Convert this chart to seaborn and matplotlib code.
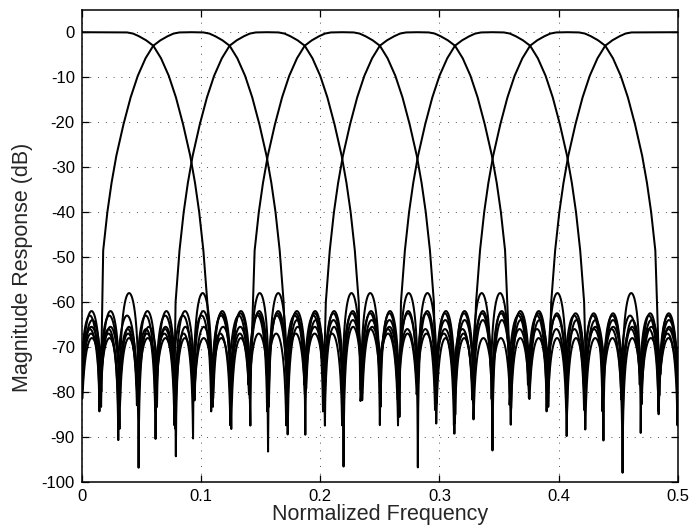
import numpy as np
import pandas as pd
import matplotlib
matplotlib.use("Agg")
import matplotlib.pyplot as plt
import seaborn as sns

# ---------------- values ----------------
x_ticks = [0.0, 0.1, 0.2, 0.3, 0.4, 0.5]
x_tick_labels = ["0", "0.1", "0.2", "0.3", "0.4", "0.5"]
y_ticks = [0, -10, -20, -30, -40, -50, -60, -70, -80, -90, -100]
y_tick_labels = ["0", "-10", "-20", "-30", "-40", "-50", "-60", "-70", "-80", "-90", "-100"]

# -3 dB crossings between neighbouring channels (8 channels)
band_edges = [0.060, 0.124, 0.187, 0.250, 0.313, 0.376, 0.439]
# main-lobe nulls of each channel, as index on the 1/64 sidelobe grid
mainlobe_null_bins = [(None, 7), (1, 11), (5, 15), (9, 19), (13, 23), (17, 27), (21, 31), (25, None)]
sidelobe_spacing = 1 / 64          # arch width
n_arches = 32
# small misalignment of each channel's sidelobe grid
sidelobe_shift = [0.0, 0.0007, -0.0006, 0.0004, -0.0008, 0.0008, -0.0004, 0.0006]

# passband roll-off, distance inward from the -3 dB point
pass_dist = [0.022, 0.017, 0.012, 0.006, 0.0]
pass_db = [-0.05, -0.3, -0.9, -1.8, -3.0]
# transition band, distance outward from the -3 dB point
trans_dist = [0.0065, 0.013, 0.019, 0.025, 0.031, 0.035, 0.0385, 0.042, 0.0453]
trans_db = [-5.8, -9.7, -14.5, -20.5, -27.5, -33.5, -40.0, -48.5, -60.0]

# typical sidelobe peak level of each channel
sidelobe_db = [-62.5, -64.0, -66.0, -68.0, -63.0, -65.5, -67.0, -62.0]
# the taller (-58 dB) sidelobes, channel -> arch indices
tall_lobe_bins = {0: [29], 1: [17, 18, 25], 2: [21, 22], 5: [9, 10], 6: [6, 14, 15], 7: [2]}
tall_lobe_db = -58.0
# typical null depths of each channel (repeating along frequency)
null_pattern = [
    [-74, -80, -77],
    [-78, -72, -83],
    [-72, -79, -75, -82],
    [-80, -75, -86],
    [-76, -83, -71],
    [-71, -77, -81, -74],
    [-79, -73, -85],
    [-75, -82, -78],
]
# deepest null seen at each grid point 0, 1/64, ..., 32/64
deep_null_db = [-78, -83, -89.5, -96, -89.5, -92, -89.5, -80, -80, -85, -92, -89, -88.5,
                -85, -96, -81, -86, -83, -96, -87, -88.5, -85, -92, -85, -80, -81,
                -88.5, -87.5, -89.5, -96, -88.5, -83, -82]

# ---------------- build the curves ----------------
n_ch = len(sidelobe_db)


def has_null(k, g):
    gl, gr = mainlobe_null_bins[k]
    if k == 0:
        return g >= gr
    if k == n_ch - 1:
        return g <= gl
    return g <= gl or g >= gr


owner = []
for g in range(n_arches + 1):
    elig = [k for k in range(n_ch) if has_null(k, g)]
    owner.append(elig[(3 * g) % len(elig)])


def null_depth(k, g):
    if 0 <= g <= n_arches and owner[g] == k:
        return deep_null_db[g]
    pat = null_pattern[k]
    return pat[g % len(pat)]


def arch(k, j, P, Na, Nb, n=48):
    a = j * sidelobe_spacing + sidelobe_shift[k]
    t = np.linspace(0.0, 1.0, n + 1)
    ea = 10 ** ((Na - P) / 20)
    eb = 10 ** ((Nb - P) / 20)
    s = np.sin(np.pi * t) + ea * (1 - t) + eb * t
    y = P + 20 * np.log10(s / s.max())
    return list(a + t * sidelobe_spacing), list(y)


def channel_curve(k):
    xs, ys = [], []

    def add(xx, yy):
        for x, y in zip(xx, yy):
            if xs and abs(x - xs[-1]) < 1e-9:
                continue
            xs.append(x)
            ys.append(y)

    sh = sidelobe_shift[k]
    gl, gr = mainlobe_null_bins[k]

    def peak(j):
        if j in tall_lobe_bins.get(k, []):
            return tall_lobe_db
        return sidelobe_db[k]

    # left sidelobes
    if gl is not None:
        j0 = -1 if sh > 0 else 0
        for j in range(j0, gl):
            ax_, ay_ = arch(k, j, peak(j), null_depth(k, j), null_depth(k, j + 1))
            add(ax_, ay_)
    # main lobe
    if k == 0:
        add([-0.001], [0.0])
    else:
        eL = band_edges[k - 1]
        nx = gl * sidelobe_spacing + sh
        add([nx], [null_depth(k, gl)])
        for d, v in zip(trans_dist[::-1], trans_db[::-1]):
            if eL - d > nx + 0.0008:
                add([eL - d], [v])
        for d, v in zip(pass_dist[::-1], pass_db[::-1]):
            add([eL + d], [v])
    if k == n_ch - 1:
        add([0.501], [0.0])
    else:
        eR = band_edges[k]
        if k > 0:
            add([(band_edges[k - 1] + eR) / 2], [0.0])
        for d, v in zip(pass_dist, pass_db):
            add([eR - d], [v])
        nx = gr * sidelobe_spacing + sh
        for d, v in zip(trans_dist, trans_db):
            if eR + d < nx - 0.0008:
                add([eR + d], [v])
        add([nx], [null_depth(k, gr)])
        j1 = n_arches + 1 if sh < 0 else n_arches
        for j in range(gr, j1):
            ax_, ay_ = arch(k, j, peak(j), null_depth(k, j), null_depth(k, j + 1))
            add(ax_, ay_)
    return xs, ys


rows = []
for k in range(n_ch):
    xs, ys = channel_curve(k)
    rows.append(pd.DataFrame({"freq": xs, "db": ys, "channel": k}))
df = pd.concat(rows, ignore_index=True)

# ---------------- plot ----------------
sns.set_style("ticks")
plt.rcParams["font.family"] = ["Liberation Sans", "DejaVu Sans"]
plt.rcParams["axes.unicode_minus"] = False

fig = plt.figure(figsize=(6.95, 5.31), dpi=100)
ax = fig.add_axes([0.1176, 0.0923, 0.8579, 0.8894])

sns.lineplot(data=df, x="freq", y="db", units="channel", estimator=None, sort=False,
             color="black", linewidth=1.45, legend=False, ax=ax)

ax.set_xlim(0, 0.5)
ax.set_ylim(-100, 5)
ax.set_xticks(x_ticks)
ax.set_xticklabels(x_tick_labels)
ax.set_yticks(y_ticks)
ax.set_yticklabels(y_tick_labels)
ax.grid(True, color="0.3", linestyle=(0, (1, 7)), linewidth=0.7)
ax.tick_params(direction="in", top=True, right=True, length=5, width=0.9,
               labelsize=12, colors="black", pad=5)
for sp in ax.spines.values():
    sp.set_visible(True)
    sp.set_color("black")
    sp.set_linewidth(1.1)

ax.set_xlabel("Normalized Frequency", fontsize=15.5, labelpad=0)
ax.set_ylabel("Magnitude Response (dB)", fontsize=15.5)
ax.yaxis.set_label_coords(-0.082, 0.455)

fig.savefig("out.png", dpi=100, facecolor="white")
